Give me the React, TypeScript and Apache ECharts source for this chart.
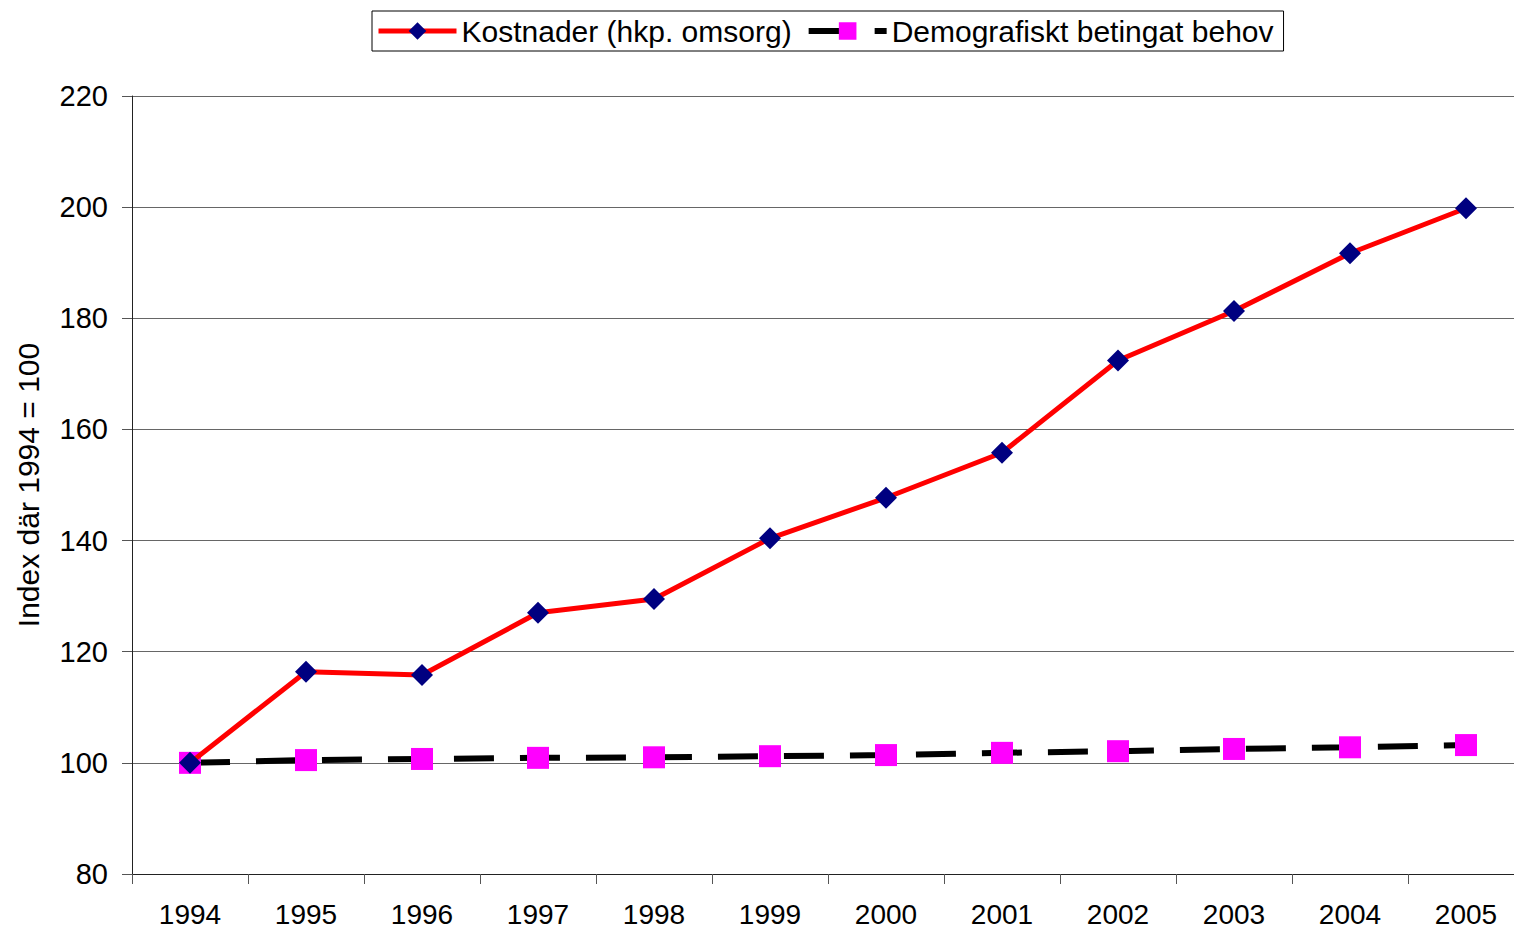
import React, { useEffect, useRef } from "react";
import * as echarts from "echarts";

const years = ["1994", "1995", "1996", "1997", "1998", "1999", "2000", "2001", "2002", "2003", "2004", "2005"];
const kostnader = [100, 116.4, 115.8, 127.0, 129.5, 140.4, 147.7, 155.8, 172.4, 181.3, 191.7, 199.8];
const demografi = [100, 100.5, 100.7, 100.9, 101.0, 101.2, 101.4, 101.8, 102.1, 102.5, 102.8, 103.2];
const yTicks = { min: 80, max: 220, interval: 20 };

const FONT = "Liberation Sans, Arial, sans-serif";

export default function App() {
  const ref = useRef<HTMLDivElement>(null);
  useEffect(() => {
    if (!ref.current) return;
    const chart = echarts.init(ref.current, null, { renderer: "svg" });
    chart.setOption({
      animation: false,
      backgroundColor: "#ffffff",
      textStyle: { fontFamily: FONT },
      legend: {
        left: 372,
        top: 11,
        padding: [5, 10, 5, 4],
        itemGap: 14,
        itemWidth: 78,
        itemHeight: 22,
        borderColor: "#000",
        borderWidth: 1,
        borderRadius: 0,
        backgroundColor: "#fff",
        textStyle: { fontSize: 30, color: "#000", fontFamily: FONT },
        data: [
          { name: "Kostnader (hkp. omsorg)", lineStyle: { width: 5 } },
          { name: "Demografiskt betingat behov", lineStyle: { width: 6 } },
        ],
      },
      grid: { left: 132, top: 96, width: 1392, height: 778, containLabel: false, outerBoundsMode: "none" },
      xAxis: {
        type: "category",
        data: years,
        boundaryGap: true,
        axisLine: { lineStyle: { color: "#222", width: 1 } },
        axisTick: { show: true, inside: false, length: 10, lineStyle: { color: "#555" } },
        axisLabel: { fontSize: 28, lineHeight: 20, color: "#000", margin: 30, fontFamily: FONT },
        splitLine: { show: false },
      },
      yAxis: {
        type: "value",
        min: yTicks.min,
        max: yTicks.max,
        interval: yTicks.interval,
        name: "Index där 1994 = 100",
        nameLocation: "middle",
        nameGap: 89,
        nameRotate: 90,
        nameTextStyle: { fontSize: 30, color: "#000", fontFamily: FONT },
        axisLine: { show: true, lineStyle: { color: "#222", width: 1 } },
        axisTick: { show: true, inside: false, length: 10, lineStyle: { color: "#555" } },
        axisLabel: { fontSize: 29, color: "#000", margin: 24, fontFamily: FONT },
        splitLine: { show: true, lineStyle: { color: "#666", width: 1 } },
      },
      series: [
        {
          name: "Kostnader (hkp. omsorg)",
          type: "line",
          data: kostnader,
          symbol: "diamond",
          symbolSize: 22,
          z: 3,
          lineStyle: { color: "#ff0000", width: 5 },
          itemStyle: { color: "#000080", borderWidth: 0 },
        },
        {
          name: "Demografiskt betingat behov",
          type: "line",
          data: demografi,
          symbol: "rect",
          symbolSize: 22,
          z: 2,
          lineStyle: { color: "#000", width: 6, type: [40, 26] },
          itemStyle: { color: "#ff00ff", borderWidth: 0 },
        },
      ],
    });
    return () => chart.dispose();
  }, []);
  return <div ref={ref} style={{ width: 1514, height: 931, position: "absolute", left: 0, top: 0 }} />;
}
